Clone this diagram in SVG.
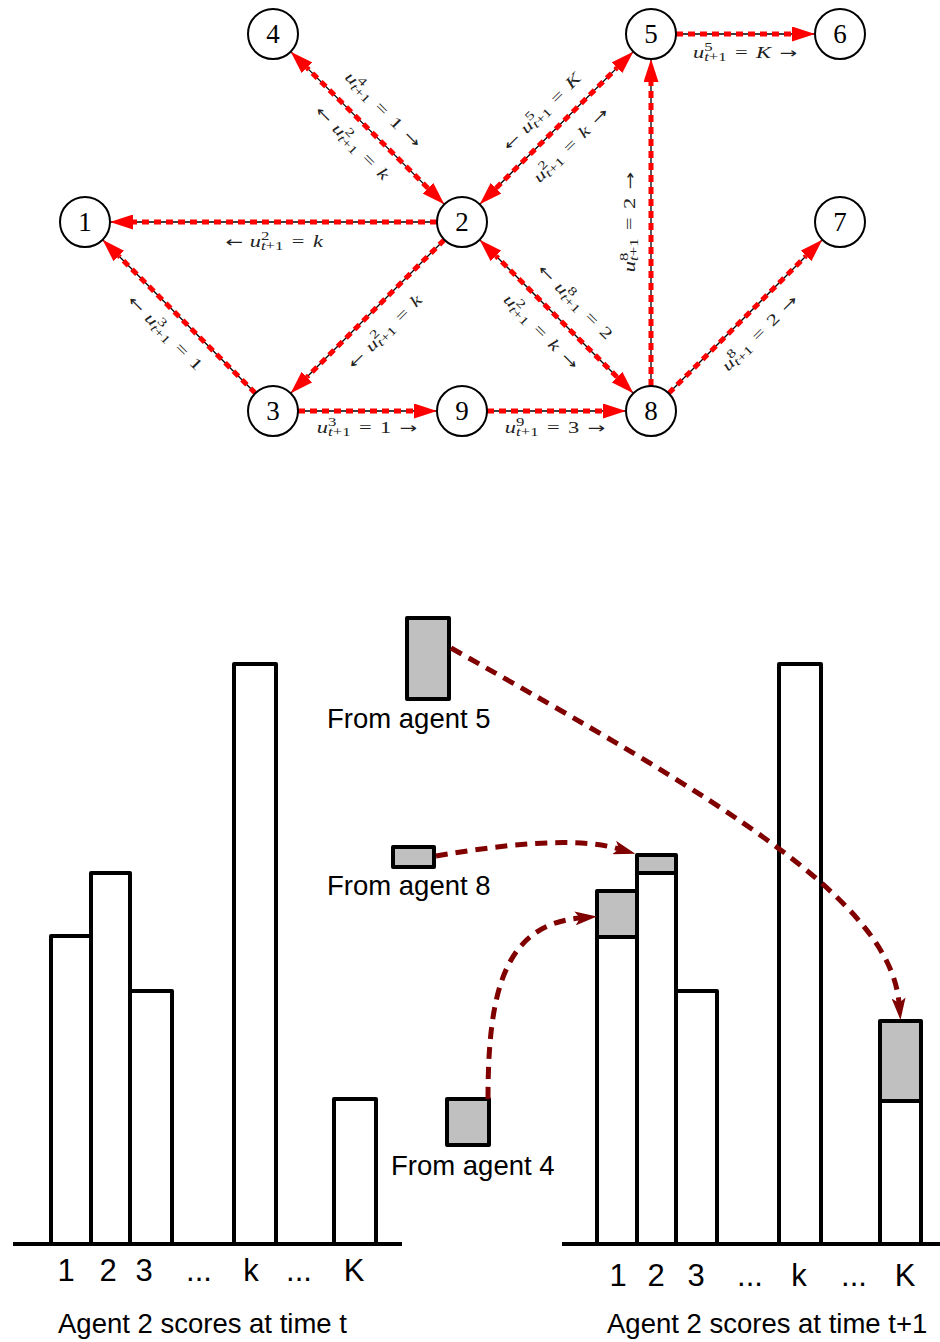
<svg xmlns="http://www.w3.org/2000/svg" width="940" height="1342" viewBox="0 0 940 1342">
<style>
.bk{stroke:#000;stroke-width:1.3;fill:none}
.rd{stroke:#f00;stroke-width:5;stroke-dasharray:7 5;fill:none}
.nd circle{fill:#fff;stroke:#000;stroke-width:2}
.nd text{font-family:"Liberation Serif","DejaVu Serif",serif;font-size:27px;text-anchor:middle;fill:#000}
.lb{font-family:"Liberation Serif","DejaVu Serif",serif;font-size:16px;fill:#222;text-anchor:middle}
.i{font-style:italic}
.s{font-size:12px}
.ar{font-family:"DejaVu Sans",sans-serif;font-size:15px}
.bar{fill:#fff;stroke:#000;stroke-width:4;stroke-linejoin:round}
.gb{fill:#c0c0c0;stroke:#000;stroke-width:4;stroke-linejoin:round}
.ax{stroke:#000;stroke-width:4}
.dr{stroke:#800000;stroke-width:5;stroke-dasharray:12 8;fill:none;marker-end:url(#da)}
.sans{font-family:"Liberation Sans",Arial,sans-serif;fill:#000}
.cap{font-size:27.5px}
.tk{font-size:31px;text-anchor:middle}
</style>
<defs>
<marker id="ra" markerUnits="userSpaceOnUse" markerWidth="23" markerHeight="15" refX="0" refY="7.5" orient="auto-start-reverse" viewBox="0 0 23 15"><path d="M0,0 L23,7.5 L0,15 z" fill="#f00"/></marker>
<marker id="da" markerUnits="userSpaceOnUse" markerWidth="22" markerHeight="14" refX="5" refY="7" orient="auto" viewBox="0 0 22 14"><path d="M0,0 L22,7 L0,14 L5,7 z" fill="#800000"/></marker>
</defs>
<rect width="940" height="1342" fill="#fff"/>

<g id="connectors">
<line class="bk" x1="437" y1="222" x2="110" y2="222"/>
<path class="rd" d="M437,222 L133,222" marker-end="url(#ra)"/>
<line class="bk" x1="444.32" y1="239.68" x2="290.68" y2="393.32"/>
<path class="rd" d="M444.32,239.68 L306.94,377.06" marker-end="url(#ra)"/>
<line class="bk" x1="255.37" y1="393.28" x2="102.63" y2="239.72"/>
<path class="rd" d="M255.37,393.28 L118.85,256.03" marker-end="url(#ra)"/>
<line class="bk" x1="444.28" y1="204.37" x2="290.72" y2="51.63"/>
<path class="rd" d="M427.97,188.15 L307.03,67.85" marker-start="url(#ra)" marker-end="url(#ra)"/>
<line class="bk" x1="479.72" y1="204.37" x2="633.28" y2="51.63"/>
<path class="rd" d="M496.03,188.15 L616.97,67.85" marker-start="url(#ra)" marker-end="url(#ra)"/>
<line class="bk" x1="676" y1="34" x2="815" y2="34"/>
<path class="rd" d="M676,34 L792,34" marker-end="url(#ra)"/>
<line class="bk" x1="651" y1="386" x2="651" y2="59"/>
<path class="rd" d="M651,386 L651,82" marker-end="url(#ra)"/>
<line class="bk" x1="298" y1="411" x2="437" y2="411"/>
<path class="rd" d="M298,411 L414,411" marker-end="url(#ra)"/>
<line class="bk" x1="487" y1="411" x2="626" y2="411"/>
<path class="rd" d="M487,411 L603,411" marker-end="url(#ra)"/>
<line class="bk" x1="633.32" y1="393.32" x2="479.68" y2="239.68"/>
<path class="rd" d="M617.06,377.06 L495.94,255.94" marker-start="url(#ra)" marker-end="url(#ra)"/>
<line class="bk" x1="668.68" y1="393.32" x2="822.32" y2="239.68"/>
<path class="rd" d="M668.68,393.32 L806.06,255.94" marker-end="url(#ra)"/>
</g>

<g id="edge-labels">
<text class="lb" transform="translate(383,110) rotate(45) scale(1.4,1)" y="5"><tspan class="i">u</tspan><tspan class="s" dy="-7">4</tspan><tspan class="s i" dx="-6" dy="10">t</tspan><tspan class="s">+1</tspan><tspan dx="6" dy="-3">=</tspan><tspan dx="6">1</tspan><tspan class="ar" dx="6">→</tspan></text>
<text class="lb" transform="translate(352,143) rotate(45) scale(1.4,1)" y="5"><tspan class="ar">←</tspan><tspan dx="5" class="i">u</tspan><tspan class="s" dy="-7">2</tspan><tspan class="s i" dx="-6" dy="10">t</tspan><tspan class="s">+1</tspan><tspan dx="6" dy="-3">=</tspan><tspan dx="6" class="i">k</tspan></text>
<text class="lb" transform="translate(542,112) rotate(-45) scale(1.4,1)" y="5"><tspan class="ar">←</tspan><tspan dx="5" class="i">u</tspan><tspan class="s" dy="-7">5</tspan><tspan class="s i" dx="-6" dy="10">t</tspan><tspan class="s">+1</tspan><tspan dx="6" dy="-3">=</tspan><tspan dx="6" class="i">K</tspan></text>
<text class="lb" transform="translate(571,145) rotate(-45) scale(1.4,1)" y="5"><tspan class="i">u</tspan><tspan class="s" dy="-7">2</tspan><tspan class="s i" dx="-6" dy="10">t</tspan><tspan class="s">+1</tspan><tspan dx="6" dy="-3">=</tspan><tspan dx="6" class="i">k</tspan><tspan class="ar" dx="6">→</tspan></text>
<text class="lb" transform="translate(745,58) scale(1.4,1)"><tspan class="i">u</tspan><tspan class="s" dy="-7">5</tspan><tspan class="s i" dx="-6" dy="10">t</tspan><tspan class="s">+1</tspan><tspan dx="6" dy="-3">=</tspan><tspan dx="6" class="i">K</tspan><tspan class="ar" dx="6">→</tspan></text>
<text class="lb" transform="translate(630,222) rotate(-90) scale(1.4,1)" y="5"><tspan class="i">u</tspan><tspan class="s" dy="-7">8</tspan><tspan class="s i" dx="-6" dy="10">t</tspan><tspan class="s">+1</tspan><tspan dx="6" dy="-3">=</tspan><tspan dx="6">2</tspan><tspan class="ar" dx="6">→</tspan></text>
<text class="lb" transform="translate(274,247) scale(1.4,1)"><tspan class="ar">←</tspan><tspan dx="5" class="i">u</tspan><tspan class="s" dy="-7">2</tspan><tspan class="s i" dx="-6" dy="10">t</tspan><tspan class="s">+1</tspan><tspan dx="6" dy="-3">=</tspan><tspan dx="6" class="i">k</tspan></text>
<text class="lb" transform="translate(165,333) rotate(45) scale(1.4,1)" y="5"><tspan class="ar">←</tspan><tspan dx="5" class="i">u</tspan><tspan class="s" dy="-7">3</tspan><tspan class="s i" dx="-6" dy="10">t</tspan><tspan class="s">+1</tspan><tspan dx="6" dy="-3">=</tspan><tspan dx="6">1</tspan></text>
<text class="lb" transform="translate(385,332) rotate(-45) scale(1.4,1)" y="5"><tspan class="ar">←</tspan><tspan dx="5" class="i">u</tspan><tspan class="s" dy="-7">2</tspan><tspan class="s i" dx="-6" dy="10">t</tspan><tspan class="s">+1</tspan><tspan dx="6" dy="-3">=</tspan><tspan dx="6" class="i">k</tspan></text>
<text class="lb" transform="translate(367,433) scale(1.4,1)"><tspan class="i">u</tspan><tspan class="s" dy="-7">3</tspan><tspan class="s i" dx="-6" dy="10">t</tspan><tspan class="s">+1</tspan><tspan dx="6" dy="-3">=</tspan><tspan dx="6">1</tspan><tspan class="ar" dx="6">→</tspan></text>
<text class="lb" transform="translate(555,433) scale(1.4,1)"><tspan class="i">u</tspan><tspan class="s" dy="-7">9</tspan><tspan class="s i" dx="-6" dy="10">t</tspan><tspan class="s">+1</tspan><tspan dx="6" dy="-3">=</tspan><tspan dx="6">3</tspan><tspan class="ar" dx="6">→</tspan></text>
<text class="lb" transform="translate(575,302) rotate(45) scale(1.4,1)" y="5"><tspan class="ar">←</tspan><tspan dx="5" class="i">u</tspan><tspan class="s" dy="-7">8</tspan><tspan class="s i" dx="-6" dy="10">t</tspan><tspan class="s">+1</tspan><tspan dx="6" dy="-3">=</tspan><tspan dx="6">2</tspan></text>
<text class="lb" transform="translate(541,332) rotate(45) scale(1.4,1)" y="5"><tspan class="i">u</tspan><tspan class="s" dy="-7">2</tspan><tspan class="s i" dx="-6" dy="10">t</tspan><tspan class="s">+1</tspan><tspan dx="6" dy="-3">=</tspan><tspan dx="6" class="i">k</tspan><tspan class="ar" dx="6">→</tspan></text>
<text class="lb" transform="translate(760,333) rotate(-45) scale(1.4,1)" y="5"><tspan class="i">u</tspan><tspan class="s" dy="-7">8</tspan><tspan class="s i" dx="-6" dy="10">t</tspan><tspan class="s">+1</tspan><tspan dx="6" dy="-3">=</tspan><tspan dx="6">2</tspan><tspan class="ar" dx="6">→</tspan></text>
</g>

<g id="node-1" class="nd"><circle cx="85" cy="222" r="25"/><text x="85" y="231">1</text></g>
<g id="node-2" class="nd"><circle cx="462" cy="222" r="25"/><text x="462" y="231">2</text></g>
<g id="node-3" class="nd"><circle cx="273" cy="411" r="25"/><text x="273" y="420">3</text></g>
<g id="node-4" class="nd"><circle cx="273" cy="34" r="25"/><text x="273" y="43">4</text></g>
<g id="node-5" class="nd"><circle cx="651" cy="34" r="25"/><text x="651" y="43">5</text></g>
<g id="node-6" class="nd"><circle cx="840" cy="34" r="25"/><text x="840" y="43">6</text></g>
<g id="node-7" class="nd"><circle cx="840" cy="222" r="25"/><text x="840" y="231">7</text></g>
<g id="node-8" class="nd"><circle cx="651" cy="411" r="25"/><text x="651" y="420">8</text></g>
<g id="node-9" class="nd"><circle cx="462" cy="411" r="25"/><text x="462" y="420">9</text></g>

<g id="chart-t">
<rect class="bar" x="51" y="936" width="40" height="308"/>
<rect class="bar" x="91" y="873" width="39" height="371"/>
<rect class="bar" x="130" y="991" width="42" height="253"/>
<rect class="bar" x="234" y="664" width="42" height="580"/>
<rect class="bar" x="334" y="1099" width="42" height="145"/>
<line class="ax" x1="13" y1="1244" x2="402" y2="1244"/>
<g class="sans tk">
<text x="66" y="1281">1</text><text x="108" y="1281">2</text><text x="144" y="1281">3</text><text x="199" y="1281">...</text><text x="251" y="1281">k</text><text x="299" y="1281">...</text><text x="354" y="1281">K</text>
</g>
<text class="sans cap" x="58" y="1333">Agent 2 scores at time t</text>
</g>

<g id="chart-t1">
<rect class="bar" x="597" y="937" width="40" height="307"/>
<rect class="gb" x="597" y="891" width="40" height="46"/>
<rect class="bar" x="637" y="873" width="39" height="371"/>
<rect class="gb" x="637" y="855" width="39" height="18"/>
<rect class="bar" x="676" y="991" width="41" height="253"/>
<rect class="bar" x="779" y="664" width="42" height="580"/>
<rect class="bar" x="880" y="1101" width="41" height="143"/>
<rect class="gb" x="880" y="1021" width="41" height="80"/>
<line class="ax" x1="562" y1="1244" x2="940" y2="1244"/>
<g class="sans tk">
<text x="618" y="1286">1</text><text x="656" y="1286">2</text><text x="696" y="1286">3</text><text x="750" y="1286">...</text><text x="799" y="1286">k</text><text x="854" y="1286">...</text><text x="905" y="1286">K</text>
</g>
<text class="sans cap" x="607" y="1333">Agent 2 scores at time t+1</text>
</g>

<g id="from-agent-5">
<rect class="gb" x="407" y="618" width="42" height="81"/>
<text class="sans cap" x="327" y="728">From agent 5</text>
</g>
<g id="from-agent-8">
<rect class="gb" x="393" y="847" width="41" height="20"/>
<text class="sans cap" x="327" y="895">From agent 8</text>
</g>
<g id="from-agent-4">
<rect class="gb" x="447" y="1099" width="42" height="46"/>
<text class="sans cap" x="391" y="1175">From agent 4</text>
</g>

<g id="transfer-arrows">
<path class="dr" d="M451,648 C720,800 890,900 899,1003"/>
<path class="dr" d="M436,856 C500,845 575,836 619,849"/>
<path class="dr" d="M488,1099 C488,990 505,925 580,918"/>
</g>
</svg>
